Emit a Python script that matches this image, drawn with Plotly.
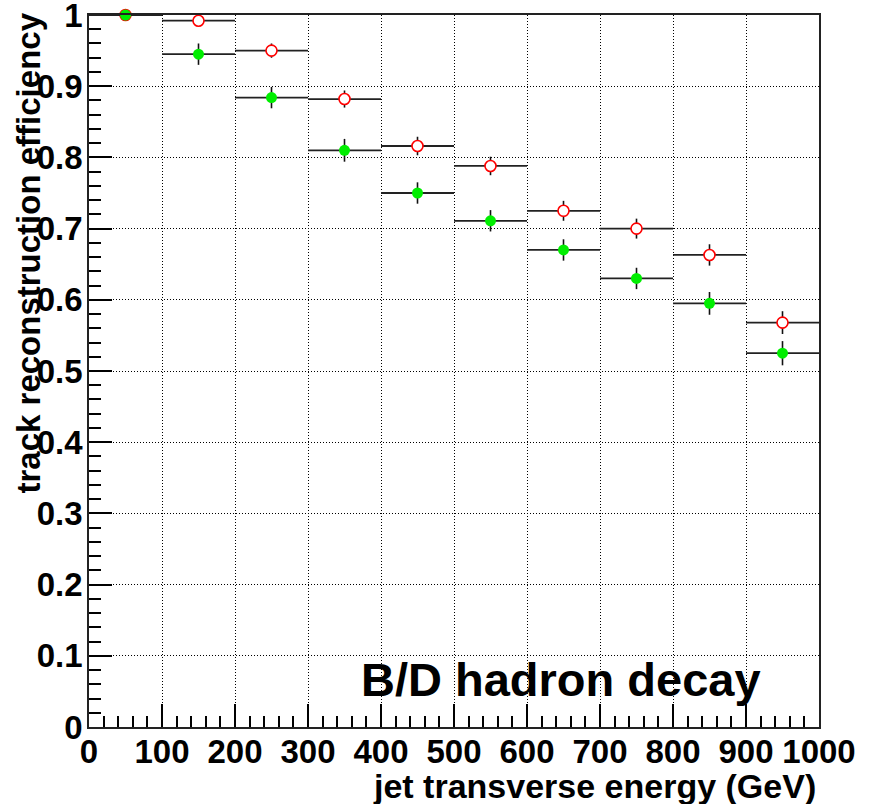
import plotly.graph_objects as go

# Data (bin centres in GeV, efficiencies, errors)
bin_centers = [50, 150, 250, 350, 450, 550, 650, 750, 850, 950]
bin_half_width = [50, 50, 50, 50, 50, 50, 50, 50, 50, 50]
eff_open = [1.0, 0.992, 0.950, 0.882, 0.816, 0.788, 0.725, 0.700, 0.663, 0.568]
err_open = [0.0, 0.008, 0.010, 0.012, 0.013, 0.013, 0.014, 0.014, 0.015, 0.016]
eff_filled = [1.0, 0.945, 0.884, 0.810, 0.750, 0.711, 0.670, 0.630, 0.595, 0.525]
err_filled = [0.0, 0.015, 0.015, 0.016, 0.015, 0.015, 0.015, 0.015, 0.016, 0.017]

x_ticks = [0, 100, 200, 300, 400, 500, 600, 700, 800, 900, 1000]
y_ticks = [0, 0.1, 0.2, 0.3, 0.4, 0.5, 0.6, 0.7, 0.8, 0.9, 1.0]
y_tick_text = ["0", "0.1", "0.2", "0.3", "0.4", "0.5", "0.6", "0.7", "0.8", "0.9", "1"]

FONT = "Liberation Sans, Arial, sans-serif"

fig = go.Figure()

fig.add_trace(go.Scatter(
    x=bin_centers, y=eff_open, mode="markers",
    marker=dict(symbol="circle", size=11, color="white",
                line=dict(color="#ff0000", width=1.6)),
    error_x=dict(type="data", array=bin_half_width, visible=True,
                 color="#222222", thickness=1.8, width=0),
    error_y=dict(type="data", array=err_open, visible=True,
                 color="#111111", thickness=1.6, width=0),
    cliponaxis=False, showlegend=False,
))

fig.add_trace(go.Scatter(
    x=bin_centers, y=eff_filled, mode="markers",
    marker=dict(symbol="circle", size=11, color="#00ee00",
                line=dict(color="#00ee00", width=0)),
    error_x=dict(type="data", array=bin_half_width, visible=True,
                 color="#222222", thickness=1.8, width=0),
    error_y=dict(type="data", array=err_filled, visible=True,
                 color="#111111", thickness=1.6, width=0),
    cliponaxis=False, showlegend=False,
))

tickfont = dict(family=FONT, size=33, color="black", weight="bold")

fig.update_xaxes(
    range=[0, 1000], tickvals=x_ticks, ticktext=[str(v) for v in x_ticks],
    ticks="inside", ticklen=23, tickwidth=1.5, tickcolor="black",
    minor=dict(dtick=20, ticks="inside", ticklen=11, tickwidth=1.5,
               tickcolor="black", showgrid=False),
    showgrid=True, gridcolor="black", gridwidth=1, griddash="1px,2px",
    showline=True, linecolor="#222222", linewidth=1.8, mirror=True,
    zeroline=False, tickfont=tickfont, ticklabelstandoff=-6,
    ticklabeloverflow="allow", automargin=False,
)
fig.update_yaxes(
    range=[0, 1.00002], tickvals=y_ticks, ticktext=y_tick_text,
    ticks="inside", ticklen=23, tickwidth=1.5, tickcolor="black",
    minor=dict(dtick=0.02, ticks="inside", ticklen=12, tickwidth=1.5,
               tickcolor="black", showgrid=False),
    showgrid=True, gridcolor="black", gridwidth=1, griddash="1px,2px",
    showline=True, linecolor="#222222", linewidth=1.8, mirror=True,
    zeroline=False, tickfont=tickfont, ticklabelstandoff=-2,
    ticklabeloverflow="allow", automargin=False,
)

fig.update_layout(
    width=869, height=804,
    margin=dict(l=89, r=50, t=15, b=77, autoexpand=False),
    plot_bgcolor="white", paper_bgcolor="white",
    font=dict(family=FONT, color="black"),
    annotations=[
        dict(text="track reconstruction efficiency", textangle=-90,
             xref="paper", yref="paper", x=0, y=1, xanchor="center", yanchor="top",
             xshift=-61, yshift=4, showarrow=False,
             font=dict(family=FONT, size=33, color="black", weight="bold")),
        dict(text="jet transverse energy (GeV)",
             xref="paper", yref="paper", x=1, y=0, xanchor="right", yanchor="middle",
             xshift=-1, yshift=-59, showarrow=False,
             font=dict(family=FONT, size=34, color="black", weight="bold")),
        dict(text="B/D hadron decay",
             xref="x", yref="y", x=647, y=0.067, xanchor="center", yanchor="middle",
             showarrow=False,
             font=dict(family=FONT, size=47, color="black", weight="bold")),
    ],
)

fig.write_html("out.html")
